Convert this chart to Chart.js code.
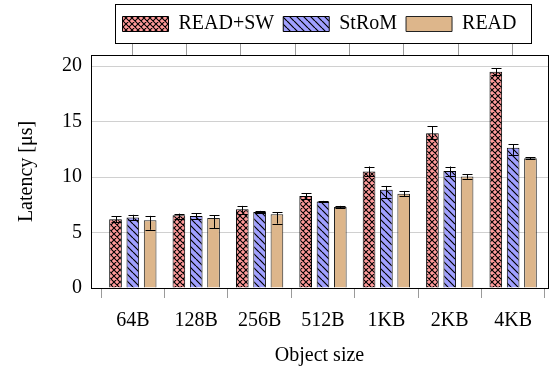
<!DOCTYPE html>
<html><head><meta charset="utf-8">
<script src="https://cdn.jsdelivr.net/npm/chart.js@4.4.0/dist/chart.umd.min.js"></script>
<style>html,body{margin:0;padding:0;background:#fff}#wrap{width:550px;height:370px}</style>
</head><body><div id="wrap"><canvas id="c" width="550" height="370"></canvas></div>
<script>
const categories = ['64B','128B','256B','512B','1KB','2KB','4KB'];
const seriesNames = ['READ+SW','StRoM','READ'];
const readSw = [6.2, 6.55, 7.1, 8.3, 10.5, 13.95, 19.5];
const readSwErrPlus = [0.25, 0.15, 0.3, 0.25, 0.45, 0.65, 0.3];
const readSwErrMinus = [0.25, 0.3, 0.4, 0.3, 0.45, 0.55, 0.3];
const strom = [6.35, 6.5, 6.85, 7.8, 8.85, 10.55, 12.65];
const stromErrPlus = [0.25, 0.25, 0.1, 0.05, 0.35, 0.4, 0.3];
const stromErrMinus = [0.25, 0.25, 0.1, 0.05, 0.7, 0.45, 0.65];
const read = [6.1, 6.3, 6.65, 7.3, 8.5, 10.05, 11.7];
const readErrPlus = [0.4, 0.25, 0.2, 0.1, 0.25, 0.2, 0.1];
const readErrMinus = [0.85, 0.9, 0.85, 0.1, 0.25, 0.2, 0.1];
const yTicks = [0, 5, 10, 15, 20];

Chart.defaults.font.family = "'Liberation Serif', 'Times New Roman', serif";
Chart.defaults.color = '#000';

function makePattern(bg, kind, size, lw) {
  const c = document.createElement('canvas');
  c.width = size; c.height = size;
  const g = c.getContext('2d');
  g.fillStyle = bg; g.fillRect(0, 0, size, size);
  g.strokeStyle = '#000'; g.lineWidth = lw;
  g.beginPath();
  for (let k = -1; k <= 1; k++) {
    g.moveTo(k * size, 0); g.lineTo(k * size + size, size);
    if (kind === 'cross') { g.moveTo(k * size, size); g.lineTo(k * size + size, 0); }
  }
  g.stroke();
  return g.createPattern(c, 'repeat');
}
const ctx = document.getElementById('c').getContext('2d');
const pinkPat = makePattern('#ff9a9a', 'cross', 6, 1.1);
const bluePat = makePattern('#a0a0ff', 'nw', 7, 1.2);
const tan = '#ddb68b';

const toXY = arr => arr.map((v, i) => ({x: i, y: v}));
const errs = [[readSwErrPlus, readSwErrMinus], [stromErrPlus, stromErrMinus], [readErrPlus, readErrMinus]];

const errorBars = {
  id: 'errorBars',
  afterDatasetsDraw(chart) {
    const g = chart.ctx, ys = chart.scales.y;
    g.save();
    g.strokeStyle = '#000'; g.lineWidth = 1;
    chart.data.datasets.forEach((ds, di) => {
      const meta = chart.getDatasetMeta(di);
      meta.data.forEach((el, j) => {
        const v = ds.data[j].y;
        const t = ys.getPixelForValue(v + errs[di][0][j]);
        const b = ys.getPixelForValue(v - errs[di][1][j]);
        const x = Math.round(el.x) + 0.5;
        g.beginPath();
        g.moveTo(x, t); g.lineTo(x, b);
        g.moveTo(x - 5, Math.round(t) + 0.5); g.lineTo(x + 5, Math.round(t) + 0.5);
        g.moveTo(x - 5, Math.round(b) + 0.5); g.lineTo(x + 5, Math.round(b) + 0.5);
        g.stroke();
      });
    });
    g.restore();
  }
};
const legendFrame = {
  id: 'legendFrame',
  afterDraw(chart) {
    const lg = chart.legend; if (!lg || !lg.legendHitBoxes.length) return;
    const hb = lg.legendHitBoxes;
    const l = hb[0].left - 8, r = hb[hb.length - 1].left + hb[hb.length - 1].width + 14;
    const t = hb[0].top - 10, b = hb[0].top + hb[0].height + 9;
    const g = chart.ctx; g.save();
    g.strokeStyle = '#000'; g.lineWidth = 1;
    g.strokeRect(Math.round(l) + 0.5, Math.round(t) + 0.5, Math.round(r - l), Math.round(b - t));
    g.restore();
  }
};

const font20 = {size: 20, family: "'Liberation Serif', serif"};
const font20tight = {size: 20, lineHeight: 1.1, family: "'Liberation Serif', serif"};
const xMin = -0.66, xMax = 6.55;
const catTicks = s => { s.ticks = categories.map((_, i) => ({value: i})); };

new Chart(ctx, {
  type: 'bar',
  data: {
    datasets: [
      {label: seriesNames[0], data: toXY(readSw), backgroundColor: pinkPat, borderColor: '#000', borderWidth: 1},
      {label: seriesNames[1], data: toXY(strom), backgroundColor: bluePat, borderColor: '#000', borderWidth: 1},
      {label: seriesNames[2], data: toXY(read), backgroundColor: tan, borderColor: '#222', borderWidth: 1}
    ]
  },
  options: {
    responsive: false, animation: false, devicePixelRatio: 1,
    barPercentage: 0.73, categoryPercentage: 0.82,
    layout: {padding: {top: 5, right: 2, left: 0, bottom: 2}},
    plugins: {
      legend: {
        position: 'top', fullSize: false,
        labels: {boxWidth: 46, boxHeight: 15, padding: 9, color: '#000', font: {size: 20, family: "'Liberation Serif', serif"}}
      },
      tooltip: {enabled: false}
    },
    scales: {
      x: {
        type: 'linear', position: 'bottom', min: xMin, max: xMax, offset: false,
        afterBuildTicks: catTicks,
        ticks: {callback: v => categories[v] ?? '', font: font20tight, color: '#000', padding: 12, maxRotation: 0, autoSkip: false},
        grid: {drawOnChartArea: false, drawTicks: true, tickLength: 10, color: '#9a9a9a'},
        border: {color: '#000', width: 1},
        title: {display: true, text: 'Object size', font: font20, color: '#000', padding: {top: 0, bottom: 0}}
      },
      x2: {
        type: 'linear', position: 'top', min: xMin, max: xMax,
        afterBuildTicks: catTicks,
        ticks: {display: false},
        grid: {drawOnChartArea: false, drawTicks: true, tickLength: 12, color: '#9a9a9a'},
        border: {color: '#000', width: 1},
        afterFit: s => { s.height = 11; }
      },
      y: {
        min: 0, max: 21,
        afterBuildTicks: s => { s.ticks = yTicks.map(v => ({value: v})); },
        ticks: {font: font20, color: '#000', padding: 9},
        grid: {color: '#d0d0d0', drawTicks: false},
        border: {color: '#000', width: 1},
        title: {display: true, text: 'Latency [μs]', font: font20, color: '#000', padding: {top: 15, bottom: 0}},
        afterFit: s => { s.width = 91; }
      },
      y2: {
        position: 'right', min: 0, max: 21,
        ticks: {display: false},
        grid: {drawOnChartArea: false, drawTicks: false},
        border: {color: '#000', width: 1},
        afterFit: s => { s.width = 0; }
      }
    }
  },
  plugins: [errorBars, legendFrame]
});
</script></body></html>
